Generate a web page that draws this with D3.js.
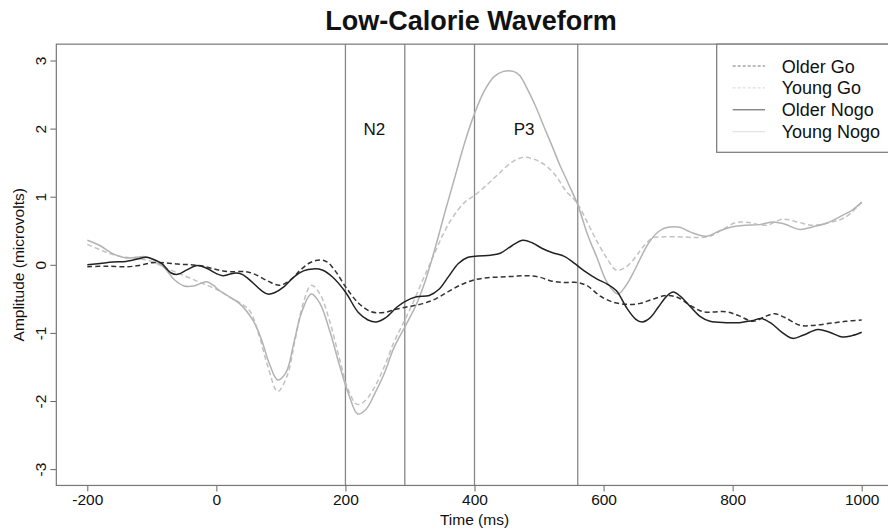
<!DOCTYPE html>
<html>

<head>
	<meta charset="utf-8">
	<script src="https://cdn.jsdelivr.net/npm/d3@7"></script>
	<style type="text/css">
		body {
			margin: 0;
			background: #fff;
		}

		svg {
			display: block;
			font-family: 'Liberation Sans', Arial, sans-serif;
		}

		path.wave {
			fill: none;
		}
	</style>
	<title>Low-Calorie Waveform</title>
</head>

<body>
	<script>
		// waveform data: [time (ms), amplitude (microvolts)]
		var older_go = [[-200, -0.03], [-170, -0.02], [-140, -0.03], [-120, -0.01], [-100, 0.03], [-80, 0.03], [-60, 0.01], [-40, 0.00], [-20, -0.02], [0, -0.07], [20, -0.10], [45, -0.10], [60, -0.14], [80, -0.24], [98, -0.30], [115, -0.22], [130, -0.08], [145, 0.03], [160, 0.07], [172, 0.04], [185, -0.10], [200, -0.32], [220, -0.56], [240, -0.69], [260, -0.70], [280, -0.65], [300, -0.61], [320, -0.57], [340, -0.50], [360, -0.39], [380, -0.29], [400, -0.22], [420, -0.19], [440, -0.18], [460, -0.17], [480, -0.16], [500, -0.18], [520, -0.24], [540, -0.26], [560, -0.26], [575, -0.31], [595, -0.46], [615, -0.55], [635, -0.58], [655, -0.57], [675, -0.51], [697, -0.45], [715, -0.48], [735, -0.60], [755, -0.69], [790, -0.69], [810, -0.75], [832, -0.83], [850, -0.76], [865, -0.72], [880, -0.77], [905, -0.89], [925, -0.89], [950, -0.86], [975, -0.83], [1000, -0.81]];
		var young_go = [[-200, 0.30], [-180, 0.22], [-160, 0.15], [-140, 0.11], [-120, 0.09], [-100, 0.05], [-80, -0.04], [-60, -0.12], [-40, -0.20], [-20, -0.28], [0, -0.36], [20, -0.47], [40, -0.58], [52, -0.68], [65, -1.00], [80, -1.50], [95, -1.86], [110, -1.62], [122, -1.10], [135, -0.55], [147, -0.30], [160, -0.42], [176, -0.84], [190, -1.35], [205, -1.85], [218, -2.05], [230, -2.00], [245, -1.80], [260, -1.50], [275, -1.14], [290, -0.85], [305, -0.55], [320, -0.22], [335, 0.10], [350, 0.42], [365, 0.68], [385, 0.92], [400, 1.02], [420, 1.18], [440, 1.36], [460, 1.52], [478, 1.58], [495, 1.54], [510, 1.46], [525, 1.32], [542, 1.08], [558, 0.92], [575, 0.62], [590, 0.34], [605, 0.10], [620, -0.08], [635, -0.03], [650, 0.12], [660, 0.25], [675, 0.39], [690, 0.41], [720, 0.41], [745, 0.40], [765, 0.42], [785, 0.52], [805, 0.62], [825, 0.62], [852, 0.58], [878, 0.67], [900, 0.63], [924, 0.58], [950, 0.62], [975, 0.70], [1000, 0.92]];
		var older_nogo = [[-200, 0.00], [-180, 0.02], [-160, 0.04], [-140, 0.05], [-120, 0.09], [-110, 0.11], [-100, 0.09], [-85, 0.02], [-70, -0.12], [-60, -0.14], [-45, -0.07], [-30, -0.01], [-15, -0.05], [0, -0.13], [10, -0.16], [20, -0.14], [30, -0.12], [40, -0.14], [55, -0.25], [70, -0.38], [80, -0.43], [90, -0.41], [105, -0.32], [120, -0.18], [135, -0.09], [150, -0.06], [165, -0.08], [180, -0.18], [200, -0.40], [220, -0.70], [235, -0.81], [248, -0.84], [262, -0.78], [280, -0.62], [292, -0.54], [310, -0.47], [330, -0.45], [345, -0.36], [360, -0.17], [375, 0.02], [390, 0.11], [405, 0.13], [425, 0.14], [440, 0.17], [458, 0.28], [475, 0.36], [490, 0.32], [505, 0.24], [520, 0.18], [540, 0.12], [555, 0.02], [570, -0.09], [590, -0.21], [605, -0.28], [620, -0.38], [635, -0.62], [650, -0.80], [660, -0.84], [672, -0.78], [685, -0.62], [698, -0.46], [708, -0.40], [720, -0.47], [735, -0.62], [750, -0.76], [765, -0.83], [790, -0.85], [810, -0.85], [830, -0.82], [845, -0.79], [860, -0.86], [875, -0.98], [893, -1.08], [910, -1.03], [932, -0.95], [950, -0.99], [970, -1.06], [985, -1.04], [1000, -0.99]];
		var young_nogo = [[-200, 0.36], [-180, 0.28], [-160, 0.16], [-140, 0.10], [-125, 0.11], [-110, 0.12], [-95, 0.06], [-80, -0.05], [-65, -0.22], [-50, -0.31], [-35, -0.31], [-15, -0.25], [-5, -0.30], [5, -0.38], [20, -0.47], [36, -0.57], [57, -0.82], [70, -1.10], [82, -1.45], [95, -1.69], [108, -1.58], [120, -1.15], [132, -0.70], [147, -0.43], [160, -0.56], [176, -0.98], [190, -1.45], [205, -1.90], [219, -2.19], [232, -2.12], [245, -1.90], [260, -1.60], [275, -1.22], [294, -0.88], [310, -0.58], [325, -0.20], [340, 0.28], [355, 0.80], [370, 1.30], [385, 1.80], [400, 2.22], [415, 2.55], [430, 2.76], [445, 2.84], [460, 2.84], [470, 2.78], [482, 2.58], [495, 2.32], [508, 2.02], [520, 1.75], [532, 1.47], [546, 1.18], [560, 0.88], [575, 0.45], [590, 0.10], [605, -0.25], [622, -0.43], [635, -0.30], [648, -0.08], [660, 0.15], [672, 0.35], [687, 0.50], [700, 0.55], [718, 0.55], [735, 0.48], [759, 0.42], [780, 0.50], [800, 0.56], [820, 0.58], [842, 0.59], [863, 0.63], [880, 0.60], [904, 0.52], [925, 0.56], [945, 0.61], [971, 0.73], [985, 0.80], [1000, 0.92]];

		// series names and window markers
		var series_names = ["Older Go", "Young Go", "Older Nogo", "Young Nogo"];
		var window_lines = [200, 292, 400, 560];
		var window_labels = [{ label: "N2", t: 245 }, { label: "P3", t: 477 }];
		var x_ticks = [-200, 0, 200, 400, 600, 800, 1000];
		var y_ticks = [-3, -2, -1, 0, 1, 2, 3];

		var width = 888;
		var height = 531;
		var font = "'Liberation Sans', Arial, sans-serif";

		// line styles per series
		var styles = [
			{ color: "#333", dash: "5,3", legend: "#777" },
			{ color: "#c2c2c2", dash: "5,3", legend: "#d6d6d6" },
			{ color: "#222", dash: null, legend: "#555" },
			{ color: "#b3b3b3", dash: null, legend: "#dcdcdc" }
		];

		// time scale and amplitude scale
		var x = d3.scaleLinear().domain([-200, 1000]).range([87.3, 861.7]);
		var y = d3.scaleLinear().domain([-3, 3]).range([469.1, 60.5]);
		// plot region (R style 4% padding)
		var x0 = x(-248), x1 = x(1048), y0 = y(3.24), y1 = y(-3.24);

		var canvas = d3.select("body")
			.append("svg")
			.attr("width", width)
			.attr("height", height);

		// title
		canvas.append("text")
			.attr("x", 471)
			.attr("y", 30)
			.attr("text-anchor", "middle")
			.attr("font-weight", "bold")
			.attr("font-size", 27)
			.attr("fill", "#111")
			.text("Low-Calorie Waveform");

		// window lines
		canvas.selectAll("line.win")
			.data(window_lines)
			.enter()
			.append("line")
			.attr("class", "win")
			.attr("x1", d => x(d)).attr("x2", d => x(d))
			.attr("y1", y0).attr("y2", y1)
			.attr("stroke", "#888")
			.attr("stroke-width", 1.3);

		canvas.selectAll("text.win")
			.data(window_labels)
			.enter()
			.append("text")
			.attr("class", "win")
			.attr("x", d => x(d.t))
			.attr("y", y(2) + 6)
			.attr("text-anchor", "middle")
			.attr("font-size", 17)
			.attr("fill", "#111")
			.text(d => d.label);

		// waveforms
		var lineGenerator = d3.line()
			.x(d => x(d[0]))
			.y(d => y(d[1]))
			.curve(d3.curveCatmullRom.alpha(0.5));

		var all_series = [older_go, young_go, older_nogo, young_nogo];
		var draw_order = [1, 3, 0, 2];
		for (var i of draw_order) {
			canvas.append("path")
				.attr("class", "wave")
				.attr("d", lineGenerator(all_series[i]))
				.attr("stroke", styles[i].color)
				.attr("stroke-width", 1.5)
				.attr("stroke-dasharray", styles[i].dash);
		}

		// axes (plain hyphen for negatives, like R)
		var x_axis = canvas.append("g")
			.attr("transform", `translate(0,${y1})`)
			.call(d3.axisBottom(x).tickValues(x_ticks).tickSize(6).tickPadding(3).tickFormat(d => String(d)));
		var y_axis = canvas.append("g")
			.attr("transform", `translate(${x0},0)`)
			.call(d3.axisLeft(y).tickValues(y_ticks).tickSize(6).tickFormat(d => String(d)));
		x_axis.select(".domain").remove();
		y_axis.select(".domain").remove();
		x_axis.selectAll("line").attr("stroke", "#666");
		y_axis.selectAll("line").attr("stroke", "#666");
		x_axis.selectAll("text")
			.attr("font-size", 15.5)
			.attr("font-family", font)
			.attr("fill", "#111");
		// rotated y tick labels
		y_axis.selectAll("text")
			.attr("font-size", 15.5)
			.attr("font-family", font)
			.attr("fill", "#111")
			.attr("text-anchor", "middle")
			.attr("dy", null)
			.attr("x", null)
			.attr("transform", `translate(${46 - x0},0) rotate(-90)`);

		// plot frame
		canvas.append("rect")
			.attr("x", x0).attr("y", y0)
			.attr("width", x1 - x0).attr("height", y1 - y0)
			.attr("fill", "none")
			.attr("stroke", "#777")
			.attr("stroke-width", 1.2);

		// axis labels
		canvas.append("text")
			.attr("x", (x0 + x1) / 2)
			.attr("y", 525)
			.attr("text-anchor", "middle")
			.attr("font-size", 15.5)
			.attr("fill", "#111")
			.text("Time (ms)");
		canvas.append("text")
			.attr("transform", `translate(24,${(y0 + y1) / 2}) rotate(-90)`)
			.attr("text-anchor", "middle")
			.attr("font-size", 15.5)
			.attr("fill", "#111")
			.text("Amplitude (microvolts)");

		// legend
		var legend = canvas.append("g");
		legend.append("rect")
			.attr("x", 716.7).attr("y", y0)
			.attr("width", x1 - 716.7).attr("height", 152.3 - y0)
			.attr("fill", "#fff")
			.attr("stroke", "#777")
			.attr("stroke-width", 1.2);
		series_names.forEach(function (name, i) {
			var ly = 66 + i * 21.9;
			legend.append("line")
				.attr("x1", 732.7).attr("x2", 765)
				.attr("y1", ly).attr("y2", ly)
				.attr("stroke", styles[i].legend)
				.attr("stroke-width", 1)
				.attr("stroke-dasharray", styles[i].dash ? "3,2" : null);
			legend.append("text")
				.attr("x", 781.7)
				.attr("y", ly + 6.5)
				.attr("font-size", 18)
				.attr("fill", "#111")
				.text(name);
		});
	</script>
</body>

</html>
